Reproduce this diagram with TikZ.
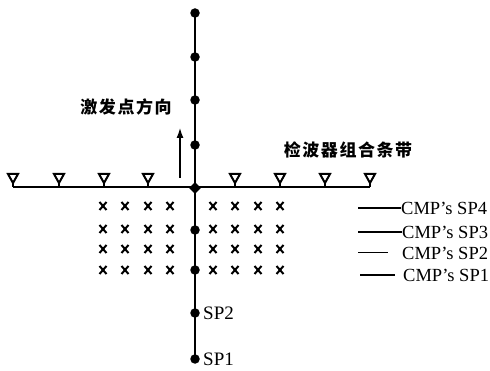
\documentclass[tikz,border=0pt]{standalone}
\usepackage{fontspec}
\setmainfont{Liberation Serif}
\newfontfamily\cjk{Noto Sans CJK SC}
\usetikzlibrary{arrows.meta,shapes.geometric}
\begin{document}
\begin{tikzpicture}[x=1pt,y=-1pt,
  dotnode/.style={circle,fill=black,inner sep=0pt,minimum size=9.5pt},
  xline/.style={line width=2pt},
  cmplabel/.style={anchor=west,inner sep=0pt,font=\fontsize{18.5}{19}\selectfont},
  splabel/.style={anchor=west,inner sep=0pt,font=\fontsize{19}{19}\selectfont},
  cjklabel/.style={inner sep=0pt,font=\fontsize{17}{17}\cjk\bfseries\addfontfeature{LetterSpace=9}},
  geo/.style={line width=1.6pt},
  shotline/.style={line width=2.4pt}]
\useasboundingbox (0,0) rectangle (490,371);
% horizontal receiver line
\coordinate (hl) at (13,187);
\coordinate (hr) at (370,187);
\draw[geo] (hl) -- (hr);
% geophones
\foreach \gx in {13,59,104,148,235,280,325,370}{
  \draw[line width=2pt,line join=miter] (\gx-5,174) -- (\gx+5,174) -- (\gx,183) -- cycle;
  \draw[geo] (\gx,183) -- (\gx,187);
}
% vertical shot line
\node[dotnode] (t1) at (195,13) {};
\node[dotnode] (t2) at (195,57) {};
\node[dotnode] (t3) at (195,100) {};
\node[dotnode] (t4) at (195,145) {};
\node[fill=black,inner sep=0pt,minimum size=12pt,diamond] (c0) at (195,188) {};
\node[dotnode] (b1) at (195,230) {};
\node[dotnode] (b2) at (195,270) {};
\node[dotnode] (sp2) at (195,313) {};
\node[dotnode] (sp1) at (195,359) {};
\draw[shotline] (t1.center) -- (sp1.center);
% direction arrow
\coordinate (a0) at (180,178);
\coordinate (a1) at (180,127);
\draw[line width=2.8pt,-{Latex[length=11pt,width=7pt]}] (a0) -- (a1);
\node[cjklabel] (dir) at (126,107) {激发点方向};
\node[cjklabel] (band) at (348,150) {检波器组合条带};
% CMP x marks
\foreach \yy in {206,229,249,270}{
  \foreach \xx in {103,125,148,170,213,235,258,280}{
    \draw[xline] (\xx-3.5,\yy-4) -- (\xx+3.5,\yy+4) (\xx-3.5,\yy+4) -- (\xx+3.5,\yy-4);
  }
}
% CMP labels
\node[cmplabel] (c4) at (401,208) {CMP's SP4};
\node[cmplabel] (c3) at (402,232) {CMP's SP3};
\node[cmplabel] (c2) at (402,253) {CMP's SP2};
\node[cmplabel] (c1) at (403,275) {CMP's SP1};
\coordinate (l4) at (358,208);
\coordinate (l3) at (358,232);
\coordinate (l2) at (358,253);
\coordinate (l1) at (360,275);
\draw[line width=1.5pt] (l4) -- (c4.west);
\draw[line width=1.5pt] (l3) -- (c3.west);
\draw[line width=1pt] (l2) -- ([xshift=-14pt]c2.west);
\draw[line width=1.5pt] (l1) -- ([xshift=-8pt]c1.west);
% SP labels
\node[splabel] (s2) at (203,313) {SP2};
\node[splabel] (s1) at (203,359) {SP1};
\end{tikzpicture}
\end{document}
